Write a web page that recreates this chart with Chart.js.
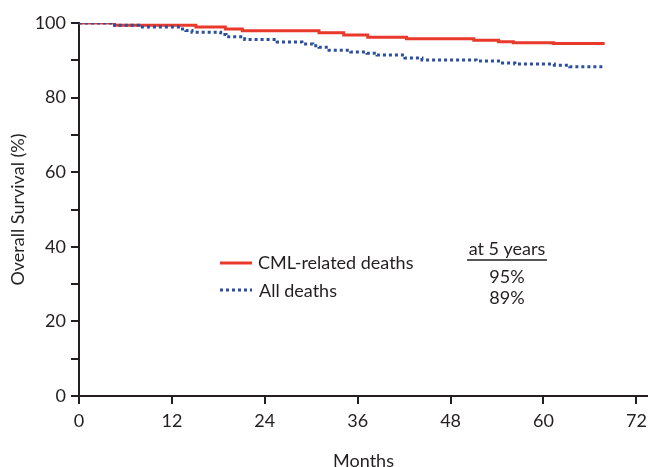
<!DOCTYPE html>
<html>
<head>
<meta charset="utf-8">
<script src="https://cdn.jsdelivr.net/npm/chart.js@4/dist/chart.umd.min.js"></script>
<style>
  html, body { margin: 0; padding: 0; background: #ffffff; }
  #wrap { width: 648px; height: 467px; }
</style>
</head>
<body>
<div id="wrap"><canvas id="km" width="648" height="467"></canvas></div>
<script>
// Kaplan-Meier estimates: event times (months) and survival (%)
const cmlMonths   = [0, 4.6, 15.1, 18.9, 21.1, 31.0, 34.2, 37.3, 42.3, 51.0, 54.2, 56.1, 61.3, 67.9];
const cmlSurvival = [100, 99.4, 98.9, 98.4, 97.9, 97.4, 96.8, 96.2, 95.8, 95.4, 95.0, 94.7, 94.5, 94.5];

const allMonths   = [0, 4.6, 7.7, 13.1, 13.8, 14.6, 18.3, 19.0, 21.4, 25.6, 28.8, 30.2, 31.0, 32.3, 35.1, 37.2, 38.5, 42.1, 44.3, 51.3, 54.7, 56.3, 61.4, 63.4, 67.6];
const allSurvival = [100, 99.4, 98.9, 98.4, 98.0, 97.5, 96.9, 96.3, 95.6, 94.9, 94.4, 93.9, 93.5, 92.7, 92.2, 91.9, 91.4, 90.6, 90.1, 89.8, 89.3, 89.0, 88.7, 88.3, 88.3];

const seriesNames = ['CML-related deaths', 'All deaths'];
const fiveYearRates = ['95%', '89%'];
const fiveYearHeader = 'at 5 years';
const monthTicks = [0, 12, 24, 36, 48, 60, 72];
const percentTicks = [0, 20, 40, 60, 80, 100];

const INK = '#231f20';
const RED = '#e8392b';
const BLUE = '#2a4f9f';
const FONT = 'Lato, "Open Sans", sans-serif';

const toPoints = (xs, ys) => xs.map((x, i) => ({ x, y: ys[i] }));

// legend + 5-year table drawn onto the canvas
const keyPlugin = {
  id: 'survivalKey',
  afterDraw(chart) {
    const ctx = chart.ctx;
    ctx.save();
    ctx.font = '18px ' + FONT;
    ctx.fillStyle = INK;
    ctx.textBaseline = 'middle';
    ctx.textAlign = 'left';

    // red solid sample
    ctx.strokeStyle = RED;
    ctx.lineWidth = 3;
    ctx.setLineDash([]);
    ctx.beginPath(); ctx.moveTo(220, 263); ctx.lineTo(252, 263); ctx.stroke();
    ctx.fillText(seriesNames[0], 258, 263);

    // blue dotted sample
    ctx.strokeStyle = BLUE;
    ctx.setLineDash([3, 3]);
    ctx.beginPath(); ctx.moveTo(220, 290); ctx.lineTo(252, 290); ctx.stroke();
    ctx.setLineDash([]);
    ctx.fillText(seriesNames[1], 259, 291);

    // 5-year column
    ctx.textAlign = 'center';
    ctx.fillText(fiveYearHeader, 507, 249);
    ctx.strokeStyle = INK;
    ctx.lineWidth = 1.6;
    ctx.beginPath(); ctx.moveTo(467, 260); ctx.lineTo(547, 260); ctx.stroke();
    ctx.fillText(fiveYearRates[0], 507, 277);
    ctx.fillText(fiveYearRates[1], 507, 298);
    ctx.restore();
  }
};

new Chart(document.getElementById('km'), {
  type: 'line',
  data: {
    datasets: [
      {
        label: seriesNames[0],
        data: toPoints(cmlMonths, cmlSurvival),
        stepped: true,
        borderColor: RED,
        borderWidth: 3,
        pointRadius: 0,
        fill: false,
        order: 2
      },
      {
        label: seriesNames[1],
        data: toPoints(allMonths, allSurvival),
        stepped: true,
        borderColor: BLUE,
        borderWidth: 3,
        borderDash: [3, 3],
        borderCapStyle: 'butt',
        pointRadius: 0,
        fill: false,
        order: 1
      }
    ]
  },
  options: {
    responsive: false,
    animation: false,
    devicePixelRatio: 1,
    layout: { padding: { top: 23, right: 0, bottom: 0, left: 0 } },
    plugins: { legend: { display: false }, tooltip: { enabled: false } },
    scales: {
      x: {
        type: 'linear',
        min: 0,
        max: 73.5,
        afterBuildTicks(scale) { scale.ticks = monthTicks.map(v => ({ value: v })); },
        afterFit(scale) { scale.height = 71; scale.paddingRight = 0; scale.paddingLeft = 0; },
        border: { display: true, color: INK, width: 2 },
        grid: { drawOnChartArea: false, drawTicks: true, tickLength: 8, color: INK, lineWidth: 2 },
        ticks: { color: INK, font: { family: FONT, size: 18 }, padding: 6, maxRotation: 0 },
        title: { display: true, text: 'Months', color: INK, font: { family: FONT, size: 18, lineHeight: 0.7 }, padding: { top: 0, bottom: 0 } }
      },
      y: {
        min: 0,
        max: 100,
        ticks: {
          stepSize: 10,
          color: INK,
          font: { family: FONT, size: 18 },
          padding: 5,
          callback: v => (percentTicks.includes(v) ? String(v) : '')
        },
        afterFit(scale) { scale.width = 79; },
        border: { display: true, color: INK, width: 2 },
        grid: { drawOnChartArea: false, drawTicks: true, tickLength: 8, color: INK, lineWidth: 2 },
        title: { display: true, text: 'Overall Survival (%)', color: INK, font: { family: FONT, size: 18, lineHeight: 1 }, padding: { top: 9, bottom: 0 } }
      }
    }
  },
  plugins: [keyPlugin]
});
</script>
</body>
</html>
